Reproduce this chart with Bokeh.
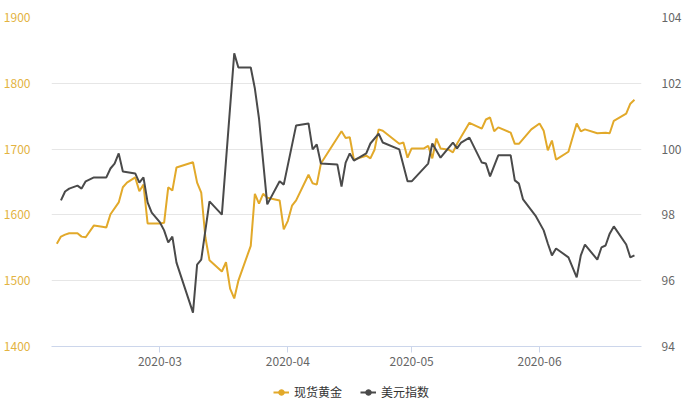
from datetime import datetime
import pandas as pd
from bokeh.plotting import figure
from bokeh.layouts import column
from bokeh.models import (Range1d, LinearAxis, ColumnDataSource, Legend, LegendItem,
                          SingleIntervalTicker, MonthsTicker, DatetimeTickFormatter)
from bokeh.embed import file_html
from bokeh.resources import INLINE

# ---- data ----
gold_dates = ["2020-02-05", "2020-02-06", "2020-02-07", "2020-02-08", "2020-02-10", "2020-02-11",
              "2020-02-12", "2020-02-14", "2020-02-16", "2020-02-17", "2020-02-18", "2020-02-20",
              "2020-02-21", "2020-02-22", "2020-02-24", "2020-02-25", "2020-02-26", "2020-02-27",
              "2020-03-01", "2020-03-02", "2020-03-03", "2020-03-04", "2020-03-05", "2020-03-09",
              "2020-03-10", "2020-03-11", "2020-03-12", "2020-03-13", "2020-03-16", "2020-03-17",
              "2020-03-18", "2020-03-19", "2020-03-20", "2020-03-23", "2020-03-24", "2020-03-25",
              "2020-03-26", "2020-03-27", "2020-03-30", "2020-03-31", "2020-04-01", "2020-04-02",
              "2020-04-03", "2020-04-06", "2020-04-07", "2020-04-08", "2020-04-09", "2020-04-14",
              "2020-04-15", "2020-04-16", "2020-04-17", "2020-04-20", "2020-04-21", "2020-04-22",
              "2020-04-23", "2020-04-24", "2020-04-28", "2020-04-29", "2020-04-30", "2020-05-01",
              "2020-05-04", "2020-05-05", "2020-05-06", "2020-05-07", "2020-05-08", "2020-05-10",
              "2020-05-11", "2020-05-12", "2020-05-15", "2020-05-18", "2020-05-19", "2020-05-20",
              "2020-05-21", "2020-05-22", "2020-05-25", "2020-05-26", "2020-05-27", "2020-05-30",
              "2020-06-01", "2020-06-02", "2020-06-03", "2020-06-04", "2020-06-05", "2020-06-08",
              "2020-06-10", "2020-06-11", "2020-06-12", "2020-06-15", "2020-06-17", "2020-06-18",
              "2020-06-19", "2020-06-22", "2020-06-23", "2020-06-24"]
gold_prices = [1556, 1567, 1570, 1572, 1572, 1567,
               1566, 1584, 1582, 1581, 1601, 1619,
               1642, 1649, 1657, 1636, 1646, 1587,
               1587, 1588, 1642, 1637, 1672, 1680,
               1649, 1634, 1566, 1531, 1514, 1528,
               1488, 1473, 1500, 1553, 1632, 1617,
               1632, 1626, 1622, 1578, 1591, 1614,
               1622, 1661, 1648, 1646, 1678, 1727,
               1717, 1718, 1684, 1690, 1686, 1699,
               1730, 1728, 1708, 1710, 1687, 1701,
               1701, 1705, 1686, 1716, 1701, 1699,
               1695, 1708, 1740, 1731, 1745, 1748,
               1727, 1733, 1725, 1708, 1708, 1730,
               1739, 1728, 1698, 1713, 1684, 1696,
               1739, 1727, 1730, 1724, 1725, 1724,
               1743, 1754, 1769, 1775]

usd_dates = ["2020-02-06", "2020-02-07", "2020-02-08", "2020-02-10", "2020-02-11", "2020-02-12",
             "2020-02-14", "2020-02-17", "2020-02-18", "2020-02-19", "2020-02-20", "2020-02-21",
             "2020-02-24", "2020-02-25", "2020-02-26", "2020-02-27", "2020-02-28", "2020-03-01",
             "2020-03-02", "2020-03-03", "2020-03-04", "2020-03-05", "2020-03-09", "2020-03-10",
             "2020-03-11", "2020-03-13", "2020-03-16", "2020-03-19", "2020-03-20", "2020-03-23",
             "2020-03-24", "2020-03-25", "2020-03-27", "2020-03-30", "2020-03-31", "2020-04-03",
             "2020-04-06", "2020-04-07", "2020-04-08", "2020-04-09", "2020-04-13", "2020-04-14",
             "2020-04-15", "2020-04-16", "2020-04-17", "2020-04-20", "2020-04-21", "2020-04-23",
             "2020-04-24", "2020-04-28", "2020-04-30", "2020-05-01", "2020-05-05", "2020-05-06",
             "2020-05-08", "2020-05-11", "2020-05-12", "2020-05-13", "2020-05-15", "2020-05-18",
             "2020-05-19", "2020-05-20", "2020-05-22", "2020-05-25", "2020-05-26", "2020-05-27",
             "2020-05-28", "2020-05-31", "2020-06-02", "2020-06-03", "2020-06-04", "2020-06-05",
             "2020-06-08", "2020-06-10", "2020-06-11", "2020-06-12", "2020-06-15", "2020-06-16",
             "2020-06-17", "2020-06-18", "2020-06-19", "2020-06-22", "2020-06-23", "2020-06-24"]
usd_values = [98.44, 98.71, 98.80, 98.89, 98.80, 99.02,
              99.14, 99.14, 99.41, 99.56, 99.87, 99.32,
              99.26, 98.98, 99.14, 98.38, 98.07, 97.77,
              97.53, 97.16, 97.34, 96.55, 95.03, 96.49,
              96.64, 98.41, 98.01, 102.91, 102.48, 102.48,
              101.84, 100.93, 98.32, 99.02, 98.92, 100.72,
              100.78, 99.99, 100.14, 99.56, 99.53, 98.86,
              99.59, 99.87, 99.65, 99.87, 100.17, 100.47,
              100.20, 99.99, 99.02, 99.02, 99.56, 100.17,
              99.74, 100.20, 100.02, 100.20, 100.35, 99.59,
              99.56, 99.17, 99.81, 99.81, 99.05, 98.95,
              98.47, 97.98, 97.53, 97.13, 96.77, 96.98,
              96.71, 96.10, 96.77, 97.10, 96.64, 97.01,
              97.07, 97.43, 97.65, 97.10, 96.71, 96.77]

gold_label = "现货黄金"
usd_label = "美元指数"
gold_ticks_range = (1400, 1900)
usd_ticks_range = (94, 104)

GOLD = "#e2a92a"
DARK = "#4a4a4a"
FONT = "Noto Sans CJK SC"

gold_src = ColumnDataSource(dict(x=pd.to_datetime(gold_dates), y=gold_prices))
usd_src = ColumnDataSource(dict(x=pd.to_datetime(usd_dates), y=usd_values))

p = figure(width=684, height=380,
           x_axis_type="datetime", output_backend="svg", toolbar_location=None,
           x_range=Range1d(datetime(2020, 2, 3, 17), datetime(2020, 6, 25, 17)),
           y_range=Range1d(*gold_ticks_range),
           min_border_left=44, min_border_right=42, min_border_top=17, min_border_bottom=34)
p.extra_y_ranges = {"usd": Range1d(*usd_ticks_range)}
p.outline_line_color = None
p.background_fill_color = "white"

p.line("x", "y", source=gold_src, line_color=GOLD, line_width=2)
p.line("x", "y", source=usd_src, line_color=DARK, line_width=2, y_range_name="usd")

# x axis
xa = p.xaxis[0]
xa.ticker = MonthsTicker(months=list(range(12)))
xa.formatter = DatetimeTickFormatter(months="%Y-%m", days="%Y-%m")
xa.axis_line_color = "#ccd6eb"
xa.major_tick_line_color = "#ccd6eb"
xa.major_tick_out = 6
xa.major_tick_in = 0
xa.minor_tick_line_color = None
xa.major_label_text_color = "#666666"
xa.major_label_text_font = FONT
xa.major_label_text_font_size = "12px"
xa.major_label_standoff = 4

# left axis
ya = p.yaxis[0]
ya.ticker = SingleIntervalTicker(interval=100)
ya.axis_line_color = None
ya.major_tick_line_color = None
ya.minor_tick_line_color = None
ya.major_label_text_color = "#e3b341"
ya.major_label_text_font = FONT
ya.major_label_text_font_size = "12px"
ya.major_label_standoff = 15

# right axis
ra = LinearAxis(y_range_name="usd", ticker=SingleIntervalTicker(interval=2))
ra.axis_line_color = None
ra.major_tick_line_color = None
ra.minor_tick_line_color = None
ra.major_label_text_color = "#666666"
ra.major_label_text_font = FONT
ra.major_label_text_font_size = "12px"
ra.major_label_standoff = 14
p.add_layout(ra, "right")

p.xgrid.grid_line_color = None
p.ygrid.grid_line_color = "#e6e6e6"
p.ygrid.ticker = SingleIntervalTicker(interval=100)

# ---- legend strip (its renderers use the same sources, kept out of view) ----
lf = figure(width=684, height=20, output_backend="svg", toolbar_location=None,
            x_range=Range1d(0, 1), y_range=Range1d(0, 1),
            x_axis_location=None, y_axis_location=None,
            min_border_left=44, min_border_right=42, min_border_top=0, min_border_bottom=0)
lf.outline_line_color = None
lf.xgrid.grid_line_color = None
lf.ygrid.grid_line_color = None
gl = lf.line("x", "y", source=gold_src, line_color=GOLD, line_width=2)
gm = lf.scatter("x", "y", source=gold_src, marker="circle", size=7, fill_color=GOLD, line_color=GOLD)
ul = lf.line("x", "y", source=usd_src, line_color=DARK, line_width=2)
um = lf.scatter("x", "y", source=usd_src, marker="circle", size=7, fill_color=DARK, line_color=DARK)

legend = Legend(items=[LegendItem(label=gold_label, renderers=[gl, gm]),
                       LegendItem(label=usd_label, renderers=[ul, um])],
                orientation="horizontal", location=(222, 0))
legend.border_line_color = None
legend.background_fill_alpha = 0
legend.label_text_font = FONT
legend.label_text_font_size = "12px"
legend.label_text_color = "#333333"
legend.glyph_width = 16
legend.glyph_height = 14
legend.label_height = 14
legend.label_standoff = 5
legend.spacing = 18
legend.padding = 0
legend.margin = 0
lf.add_layout(legend)

open("out.html", "w").write(file_html(column(p, lf, spacing=0), INLINE))
